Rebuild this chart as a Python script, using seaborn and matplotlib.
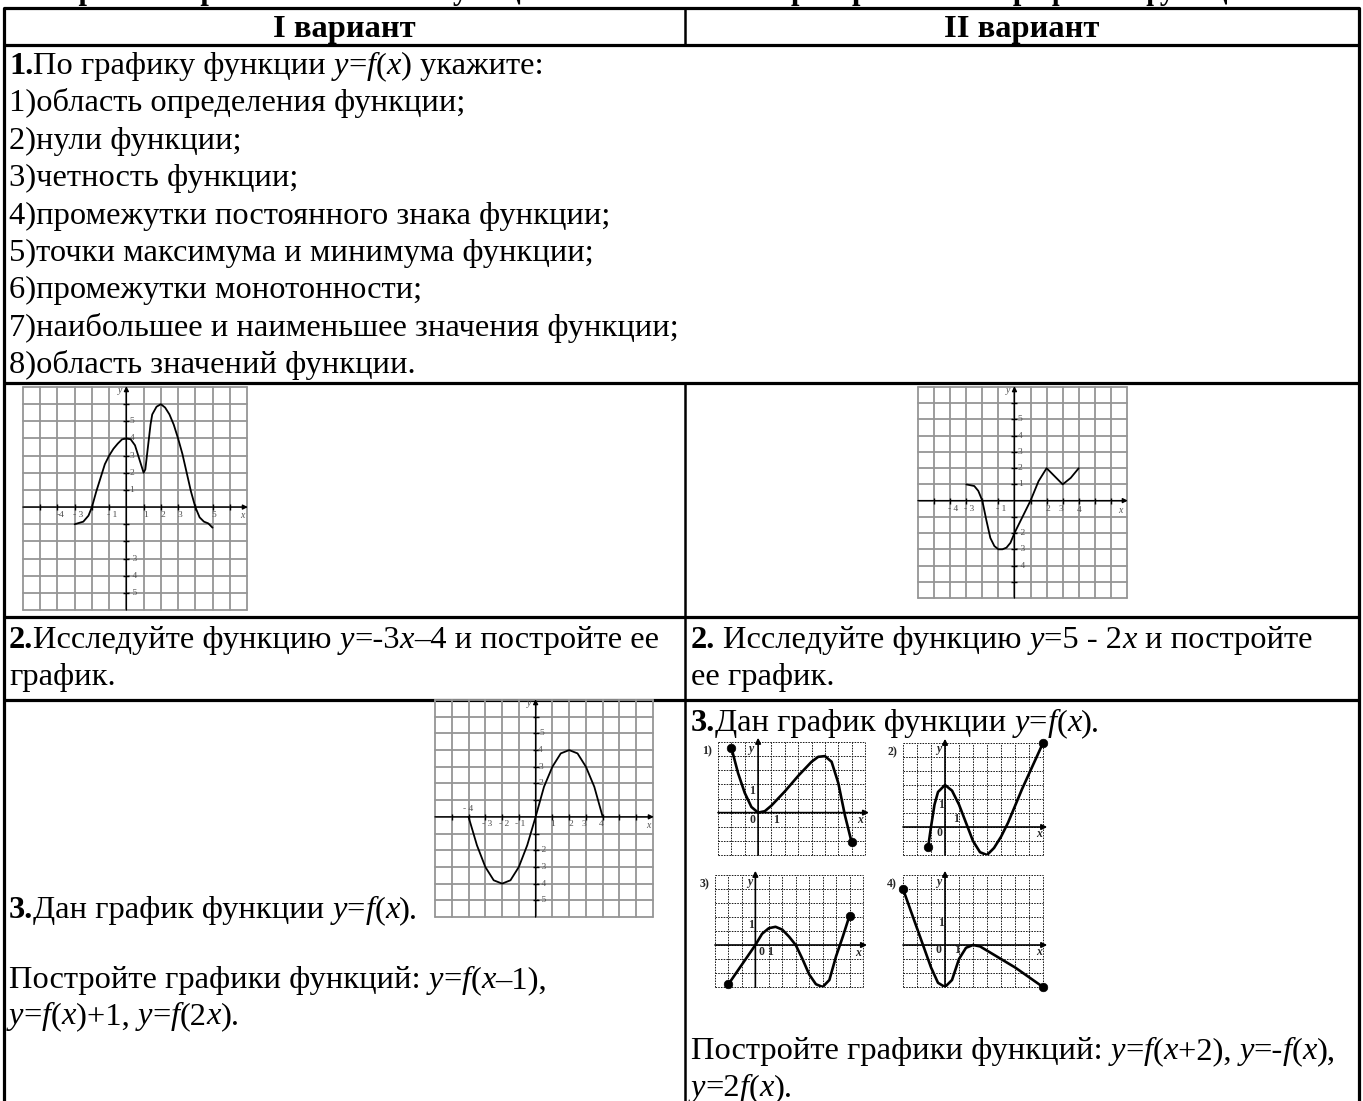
import numpy as np
import pandas as pd
import matplotlib
matplotlib.use("Agg")
import matplotlib.pyplot as plt
import seaborn as sns

sns.set_theme(style="white")
plt.rcParams['font.family'] = ['Liberation Serif', 'DejaVu Serif']

W, H = 1363, 1101
FS = 23.4

# ---- texts ('*' toggles bold, '_' toggles italic) ----
title = "*Контрольная работа по теме «Функции и их свойства. Преобразование графиков функций»*"
header_left = "I вариант"
header_right = "II вариант"
task1_lines = [
    "*1.*По графику функции _y_=_f_(_x_) укажите:",
    "1)область определения функции;",
    "2)нули функции;",
    "3)четность функции;",
    "4)промежутки постоянного знака функции;",
    "5)точки максимума и минимума функции;",
    "6)промежутки монотонности;",
    "7)наибольшее и наименьшее значения функции;",
    "8)область значений функции.",
]
task2_left = ["*2.*Исследуйте функцию _y_=-3_x_–4 и постройте ее", "график."]
task2_right = ["*2.* Исследуйте функцию _y_=5 - 2_x_ и постройте", "ее график."]
task3_left_head = "*3.*Дан график функции _y_=_f_(_x_)."
task3_left_tail = ["Постройте графики функций: _y_=_f_(_x_–1),", "_y_=_f_(_x_)+1, _y_=_f_(2_x_)."]
task3_right_head = "*3.*Дан график функции _y_=_f_(_x_)."
task3_right_tail = ["Постройте графики функций: _y_=_f_(_x_+2), _y_=-_f_(_x_),", "_y_=2_f_(_x_)."]

# ---- curves ----
v1_x = [-3, -2.5, -2.2, -2, -1.75, -1.5, -1.25, -1, -0.75, -0.5, -0.25, 0, 0.25, 0.5, 0.75, 1,
        1.1, 1.25, 1.4, 1.5, 1.75, 2, 2.25, 2.5, 2.75, 3, 3.25, 3.5, 3.75, 4, 4.25, 4.5, 4.75, 5]
v1_y = [-1, -0.85, -0.5, 0, 0.9, 1.7, 2.5, 3.0, 3.4, 3.7, 3.95, 4.0, 3.95, 3.6, 2.8, 2.0,
        2.2, 3.5, 4.8, 5.4, 5.85, 6.0, 5.8, 5.4, 4.8, 4.0, 3.1, 2.0, 0.9, 0, -0.6, -0.85, -0.95, -1.2]

v2_x = [-3, -2.5, -2.25, -2, -1.75, -1.5, -1.25, -1, -0.75, -0.5, -0.25, 0, 0.5, 1, 1.5, 2,
        2.5, 3, 3.5, 4]
v2_y = [1, 0.9, 0.6, 0, -1.2, -2.3, -2.8, -3, -3.0, -2.9, -2.6, -2, -1, 0, 1.2, 2,
        1.5, 1, 1.4, 2]

v3_x = [-4, -3.5, -3, -2.5, -2, -1.5, -1, -0.5, 0, 0.5, 1, 1.5, 2, 2.5, 3, 3.5, 4]
v3_y = [0, -1.7, -3, -3.8, -4, -3.8, -3, -1.7, 0, 1.8, 3, 3.8, 4, 3.8, 3, 1.8, 0]

s1_x = [-2, -1.5, -1, -0.5, 0, 0.5, 1, 2, 3, 4, 4.5, 5, 5.5, 6, 6.5, 7]
s1_y = [4.6, 2.8, 1.4, 0.4, 0, 0.1, 0.5, 1.5, 2.6, 3.6, 3.95, 4.0, 3.6, 2.1, -0.2, -2.1]

s2_x = [-1.2, -1, -0.75, -0.5, 0, 0.5, 1, 1.5, 2, 2.5, 3, 3.5, 4, 4.5, 5, 5.5, 6, 6.5, 7]
s2_y = [-1.4, 0, 1.6, 2.5, 3, 2.6, 1.6, 0.3, -1, -1.8, -2, -1.5, -0.7, 0.3, 1.5, 2.7, 3.8, 4.9, 6]

s3_x = [-2, -1, 0, 0.5, 1, 1.5, 2, 2.5, 3, 3.5, 4, 4.5, 5, 5.5, 6, 6.5, 7]
s3_y = [-2.8, -1.4, 0, 0.8, 1.2, 1.3, 1.1, 0.6, 0, -1.0, -2.1, -2.8, -3.0, -2.5, -0.8, 0.6, 2.1]

s4_x = [-3, -2.5, -2, -1.5, -1, -0.5, 0, 0.5, 1, 1.5, 2, 2.5, 3, 4, 5, 6, 7]
s4_y = [4, 2.6, 1.2, -0.2, -1.6, -2.7, -3, -2.5, -1, -0.2, 0, -0.1, -0.4, -1.0, -1.6, -2.3, -3]

fig = plt.figure(figsize=(W / 100, H / 100), dpi=100)
base = fig.add_axes([0, 0, 1, 1])
base.set_xlim(0, W)
base.set_ylim(H, 0)
base.axis('off')
renderer = fig.canvas.get_renderer()


def parse(s):
    runs, buf, bold, ital = [], "", False, False
    for ch in s:
        if ch in "*_":
            if buf:
                runs.append((buf, bold, ital))
                buf = ""
            if ch == "*":
                bold = not bold
            else:
                ital = not ital
        else:
            buf += ch
    if buf:
        runs.append((buf, bold, ital))
    return runs


def style(bold, ital, size):
    return dict(fontsize=size, fontweight='bold' if bold else 'normal',
                fontstyle='italic' if ital else 'normal')


def width(s, bold, ital, size):
    a = fig.text(0, 0, "|" + s + "|", **style(bold, ital, size))
    b = fig.text(0, 0, "||", **style(bold, ital, size))
    w = a.get_window_extent(renderer).width - b.get_window_extent(renderer).width
    a.remove()
    b.remove()
    return w


def rich(x, y, s, size=FS, center=False):
    runs = parse(s)
    if center:
        x -= sum(width(p, b, i, size) for p, b, i in runs) / 2
    for part, b, i in runs:
        stripped = part.lstrip(' ')
        if len(stripped) < len(part):
            x += width(part[:len(part) - len(stripped)], b, i, size)
        if stripped:
            base.text(x, y, stripped, va='baseline', ha='left', color='black',
                      clip_on=True, **style(b, i, size))
        x += width(stripped, b, i, size)


# ---- table ----
LW = 2.3
L, R, MID = 4, 1359, 685
for yy in [8, 45, 383, 617, 700]:
    base.plot([L, R], [yy, yy], color='black', lw=LW, solid_capstyle='butt')
base.plot([L, L], [8, H], color='black', lw=LW)
base.plot([R, R], [8, H], color='black', lw=LW)
base.plot([MID, MID], [8, 45], color='black', lw=1.8)
base.plot([MID, MID], [383, H], color='black', lw=1.8)

# title line above the table: only its lowest strokes stay inside the picture
rich(10, -1, title, size=22)
rich((L + MID) / 2, 37, "*" + header_left + "*", center=True)
rich((MID + R) / 2, 37, "*" + header_right + "*", center=True)

for k, line in enumerate(task1_lines):
    rich(9, 74 + 37.4 * k, line)
for k, line in enumerate(task2_left):
    rich(9, 648 + 37.4 * k, line)
for k, line in enumerate(task2_right):
    rich(691, 648 + 37.4 * k, line)
rich(9, 918, task3_left_head)
for k, line in enumerate(task3_left_tail):
    rich(9, 988 + 36 * k, line)
rich(691, 731, task3_right_head)
for k, line in enumerate(task3_right_tail):
    rich(691, 1059 + 37.4 * k, line)


# ---- graphs ----
def panel(box, xr, yr, color, lw, ls):
    x0, y0, x1, y1 = box
    ax = fig.add_axes([x0 / W, 1 - y1 / H, (x1 - x0) / W, (y1 - y0) / H])
    ax.set_xlim(*xr)
    ax.set_ylim(*yr)
    ax.axis('off')
    for gx in range(xr[0], xr[1] + 1):
        ax.axvline(gx, color=color, lw=lw, ls=ls, clip_on=False, zorder=1)
    for gy in range(yr[0], yr[1] + 1):
        ax.axhline(gy, color=color, lw=lw, ls=ls, clip_on=False, zorder=1)
    return ax


def axes_arrows(ax, xr, yr, lw, ms, over=0.15):
    ap = dict(arrowstyle='-|>', color='black', lw=lw, mutation_scale=ms, shrinkA=0, shrinkB=0)
    ax.annotate('', xy=(xr[1] + over, 0), xytext=(xr[0], 0), arrowprops=ap,
                annotation_clip=False, zorder=3)
    ax.annotate('', xy=(0, yr[1] + over), xytext=(0, yr[0]), arrowprops=ap,
                annotation_clip=False, zorder=3)


def big_graph(box, xs, ys, xlabels, ylabels, xname, yname):
    xr, yr = (-6, 7), (-6, 7)
    ax = panel(box, xr, yr, '#959595', 1.3, '-')
    axes_arrows(ax, xr, yr, 1.0, 7, over=0.05)
    ticks = [t for t in range(-5, 7) if t != 0]
    ax.plot(ticks, [0] * len(ticks), ls='none', marker='|', ms=5, color='black', mew=1.0)
    ax.plot([0] * len(ticks), ticks, ls='none', marker='_', ms=5, color='black', mew=1.0)
    sns.lineplot(x=xs, y=ys, sort=False, estimator=None, color='black', lw=1.3, ax=ax, zorder=4)
    for tx, ty, t in xlabels + ylabels:
        ax.text(tx, ty, t, fontsize=6.8, color='#505050', ha='center', va='center')
    ax.text(xname[0], xname[1], 'x', fontsize=7, color='#505050', ha='center', va='center', style='italic')
    ax.text(yname[0], yname[1], 'y', fontsize=7, color='#505050', ha='center', va='center', style='italic')


big_graph((23, 387, 247, 610), v1_x, v1_y,
          [(-3.8, -0.45, '-4'), (-2.8, -0.45, '- 3'), (-0.8, -0.45, '- 1'), (1.1, -0.45, '1'),
           (2.1, -0.45, '2'), (3.1, -0.45, '3'), (5.1, -0.45, '5')],
          [(0.3, 1, '1'), (0.3, 2, '2'), (0.3, 3, '3'), (0.35, 4, '4'), (0.3, 5, '5'),
           (0.35, -3, '- 3'), (0.35, -4, '- 4'), (0.35, -5, '- 5')],
          (6.7, -0.5), (-0.35, 6.8))

big_graph((918, 387, 1127, 598), v2_x, v2_y,
          [(-3.8, -0.5, '- 4'), (-2.8, -0.5, '- 3'), (-0.8, -0.5, '- 1'), (2.1, -0.5, '2'),
           (2.9, -0.5, '3'), (4.0, -0.6, '4')],
          [(0.35, 5, '5'), (0.35, 4, '4'), (0.35, 3, '3'), (0.35, 2, '2'), (0.35, 1, '1'),
           (0.35, -2, '- 2'), (0.35, -3, '- 3'), (0.35, -4, '- 4')],
          (6.6, -0.6), (-0.4, 6.8))

big_graph((435, 700, 653, 917), v3_x, v3_y,
          [(-4.0, 0.45, '- 4'), (-2.9, -0.45, '- 3'), (-1.9, -0.45, '- 2'), (-0.9, -0.45, '- 1'),
           (1.0, -0.45, '1'), (2.1, -0.45, '2'), (2.9, -0.45, '3'), (3.9, -0.45, '4')],
          [(0.35, 5, '5'), (0.3, 4, '4'), (0.3, 3, '3'), (0.3, 2, '2'),
           (0.35, -2, '- 2'), (0.35, -3, '- 3'), (0.35, -4, '- 4'), (0.35, -5, '- 5')],
          (6.7, -0.5), (-0.4, 6.8))


def small_graph(box, xr, yr, xs, ys, tag, labels):
    ax = panel(box, xr, yr, '#1a1a1a', 0.7, (0, (1.6, 1.2)))
    axes_arrows(ax, xr, yr, 1.2, 8, over=0.3)
    sns.lineplot(x=xs, y=ys, sort=False, estimator=None, color='black', lw=1.9, ax=ax, zorder=4)
    sns.scatterplot(x=[xs[0], xs[-1]], y=[ys[0], ys[-1]], color='black', s=38, ax=ax,
                    zorder=5, edgecolor='black', clip_on=False)
    for tx, ty, t, it in labels:
        ax.text(tx, ty, t, fontsize=8.5, fontweight='bold', style='italic' if it else 'normal',
                ha='center', va='center')
    x0, y0 = box[0], box[1]
    base.text(x0 - 11, y0 + 9, tag, fontsize=8.5, fontweight='bold', ha='center', va='center')


small_graph((718, 742, 865, 855), (-3, 8), (-3, 5), s1_x, s1_y, '1)',
            [(-0.55, 4.5, 'y', True), (7.6, -0.55, 'x', True), (-0.45, -0.5, '0', False),
             (1.35, -0.5, '1', False), (-0.45, 1.5, '1', False)])
small_graph((903, 743, 1043, 855), (-3, 7), (-2, 6), s2_x, s2_y, '2)',
            [(-0.45, 5.6, 'y', True), (6.7, -0.5, 'x', True), (-0.4, -0.4, '0', False),
             (0.8, 0.55, '1', False), (-0.25, 1.6, '1', False)])
small_graph((715, 875, 863, 987), (-3, 8), (-3, 5), s3_x, s3_y, '3)',
            [(-0.45, 4.5, 'y', True), (7.6, -0.55, 'x', True), (0.45, -0.5, '0', False),
             (1.1, -0.5, '1', False), (-0.3, 1.4, '1', False)])
small_graph((903, 875, 1043, 987), (-3, 7), (-3, 5), s4_x, s4_y, '4)',
            [(-0.45, 4.5, 'y', True), (6.7, -0.5, 'x', True), (-0.45, -0.35, '0', False),
             (0.85, -0.35, '1', False), (-0.3, 1.55, '1', False)])

fig.savefig("out.png", dpi=100)
